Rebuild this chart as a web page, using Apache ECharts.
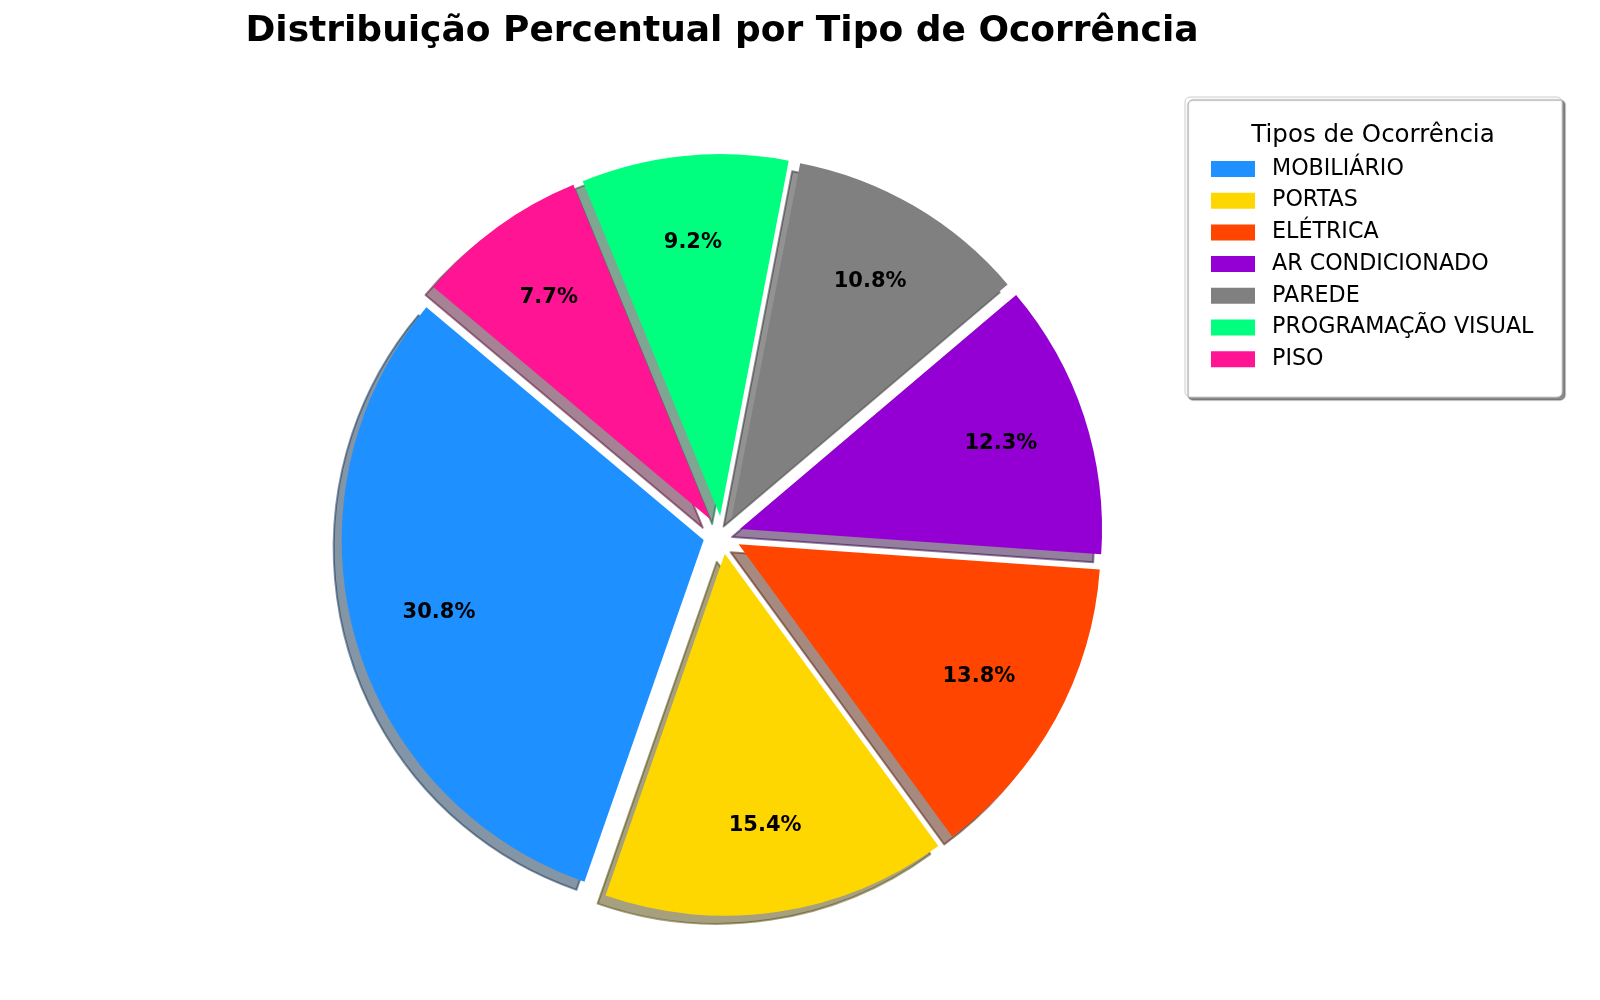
<!DOCTYPE html>
<html>
<head>
<meta charset="utf-8">
<title>Distribuição Percentual por Tipo de Ocorrência</title>
<script src="https://cdn.jsdelivr.net/npm/echarts@6/dist/echarts.min.js"></script>
<style>
  html, body { margin: 0; padding: 0; background: #fff; }
  #pieChart { width: 1600px; height: 1000px; }
</style>
</head>
<body>
<div id="pieChart"></div>
<script>
// dados
var categories = ['MOBILIÁRIO', 'PORTAS', 'ELÉTRICA', 'AR CONDICIONADO', 'PAREDE', 'PROGRAMAÇÃO VISUAL', 'PISO'];
var counts = [20, 10, 9, 8, 7, 6, 5];
var palette = ['#1E90FF', '#FFD700', '#FF4500', '#9400D3', '#808080', '#00FF7F', '#FF1493'];

var total = counts.reduce(function (a, b) { return a + b; }, 0);

// sombra: cor * 0.3 com alpha 0.5 (como no matplotlib)
function shade(hex) {
    var r = parseInt(hex.slice(1, 3), 16), g = parseInt(hex.slice(3, 5), 16), b = parseInt(hex.slice(5, 7), 16);
    return 'rgba(' + Math.round(r * 0.3) + ',' + Math.round(g * 0.3) + ',' + Math.round(b * 0.3) + ',0.5)';
}

var cx = 722, cy = 535, R = 362, off = 19;

function buildData(kind) {
    return categories.map(function (name, i) {
        var item = { name: name, value: counts[i], selected: true };
        if (kind === 'main') {
            item.itemStyle = { color: palette[i] };
        } else if (kind === 'shadow') {
            item.itemStyle = { color: shade(palette[i]), borderColor: shade(palette[i]) };
        }
        return item;
    });
}

var chart = echarts.init(document.getElementById('pieChart'));

var common = {
    type: 'pie',
    startAngle: 140,
    clockwise: false,
    selectedMode: 'multiple',
    selectedOffset: off,
    avoidLabelOverlap: false,
    silent: true,
    animation: false,
    labelLine: { show: false },
    emphasis: { disabled: true }
};

var option = {
    backgroundColor: '#ffffff',
    textStyle: { fontFamily: 'DejaVu Sans' },
    legend: {
        orient: 'vertical',
        left: 1211,
        top: 158,
        padding: 0,
        icon: 'rect',
        itemWidth: 44,
        itemHeight: 16,
        itemGap: 9.7,
        selectedMode: false,
        data: categories.map(function (name, i) {
            return { name: name, itemStyle: { color: palette[i] } };
        }),
        textStyle: {
            fontFamily: 'DejaVu Sans',
            fontSize: 22.2,
            lineHeight: 22,
            color: '#000',
            padding: [0, 0, 0, 12]
        }
    },
    graphic: [
        {
            type: 'text',
            x: cx,
            y: 14,
            style: {
                text: 'Distribuição Percentual por Tipo de Ocorrência',
                fontFamily: 'DejaVu Sans',
                fontWeight: 'bold',
                fontSize: 36,
                fill: '#000',
                textAlign: 'center',
                textVerticalAlign: 'top'
            }
        },
        {
            type: 'rect',
            z: -10,
            shape: { x: 1185, y: 97, width: 377, height: 300, r: 5 },
            style: {
                fill: '#fff',
                stroke: '#cccccc',
                lineWidth: 1,
                shadowColor: 'rgba(0,0,0,0.45)',
                shadowOffsetX: 3,
                shadowOffsetY: 3,
                shadowBlur: 1
            }
        },
        {
            type: 'text',
            z: 10,
            x: 1373,
            y: 136,
            style: {
                text: 'Tipos de Ocorrência',
                fontFamily: 'DejaVu Sans',
                fontSize: 24.5,
                fill: '#000',
                textAlign: 'center',
                textVerticalAlign: 'middle'
            }
        }
    ],
    series: [
        // fatias
        Object.assign({}, common, {
            name: 'main',
            z: 3,
            center: [cx, cy],
            radius: [0, R],
            itemStyle: { borderWidth: 0 },
            label: { show: false },
            data: buildData('main')
        }),
        // sombra deslocada
        Object.assign({}, common, {
            name: 'shadow',
            z: 1,
            center: [cx - 8, cy + 8],
            radius: [0, R],
            itemStyle: { borderWidth: 2 },
            label: { show: false },
            data: buildData('shadow')
        }),
        // rótulos de percentual (pctdistance 0.75)
        Object.assign({}, common, {
            name: 'labels',
            z: 5,
            center: [cx, cy],
            radius: [R * 0.5, R],
            itemStyle: { color: 'rgba(0,0,0,0)', borderWidth: 0 },
            label: {
                show: true,
                position: 'inside',
                fontFamily: 'DejaVu Sans',
                fontWeight: 'bold',
                fontSize: 21,
                color: '#000',
                formatter: function (p) {
                    return (p.value / total * 100).toFixed(1) + '%';
                }
            },
            data: buildData('labels')
        })
    ]
};

chart.setOption(option);
</script>
</body>
</html>
